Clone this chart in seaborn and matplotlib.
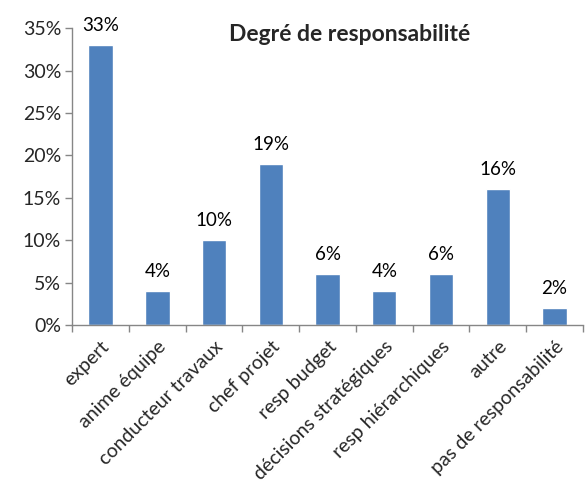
import matplotlib
matplotlib.use("Agg")
import matplotlib.pyplot as plt
import seaborn as sns
import pandas as pd
from matplotlib.ticker import PercentFormatter

categories = ["expert", "anime équipe", "conducteur travaux", "chef projet",
              "resp budget", "décisions stratégiques", "resp hiérarchiques",
              "autre", "pas de responsabilité"]
values = [33, 4, 10, 19, 6, 4, 6, 16, 2]
bar_labels = ["33%", "4%", "10%", "19%", "6%", "4%", "6%", "16%", "2%"]

df = pd.DataFrame({"cat": categories, "val": values})

sns.set_style("white")
plt.rcParams["font.family"] = ["Lato", "DejaVu Sans"]

fig = plt.figure(figsize=(5.87, 4.86), dpi=100)
ax = fig.add_axes([0.123, 0.331, 0.870, 0.611])

sns.barplot(data=df, x="cat", y="val", color="#4F81BD", width=0.43,
            saturation=1, ax=ax)

for i, (v, lab) in enumerate(zip(values, bar_labels)):
    ax.text(i, v + 1.3, lab, ha="center", va="bottom", fontsize=13.5, color="black")

ax.set_ylim(0, 35)
ax.set_xlim(-0.5, len(categories) - 0.5)
ax.set_yticks(range(0, 36, 5))
ax.yaxis.set_major_formatter(PercentFormatter(decimals=0))
ax.set_xlabel("")
ax.set_ylabel("")

# ticks at category boundaries
ax.set_xticks([i - 0.5 for i in range(len(categories) + 1)], minor=False)
ax.set_xticklabels([])
ax.set_xticks(range(len(categories)), minor=True)
ax.set_xticklabels(categories, minor=True, rotation=45, ha="right",
                   rotation_mode="anchor", fontsize=14)
ax.tick_params(axis="x", which="minor", length=0, pad=9)
ax.tick_params(axis="x", which="major", length=5, color="#868686", width=1,
               direction="out", bottom=True)
ax.tick_params(axis="y", length=5, color="#868686", width=1, direction="out",
               left=True, labelsize=14, pad=3)

for s in ["top", "right"]:
    ax.spines[s].set_visible(False)
for s in ["left", "bottom"]:
    ax.spines[s].set_color("#868686")
    ax.spines[s].set_linewidth(1)

fig.text(0.595, 0.928, "Degré de responsabilité", ha="center", va="center",
         fontsize=16.5, fontweight="bold")

fig.savefig("out.png", dpi=100)
